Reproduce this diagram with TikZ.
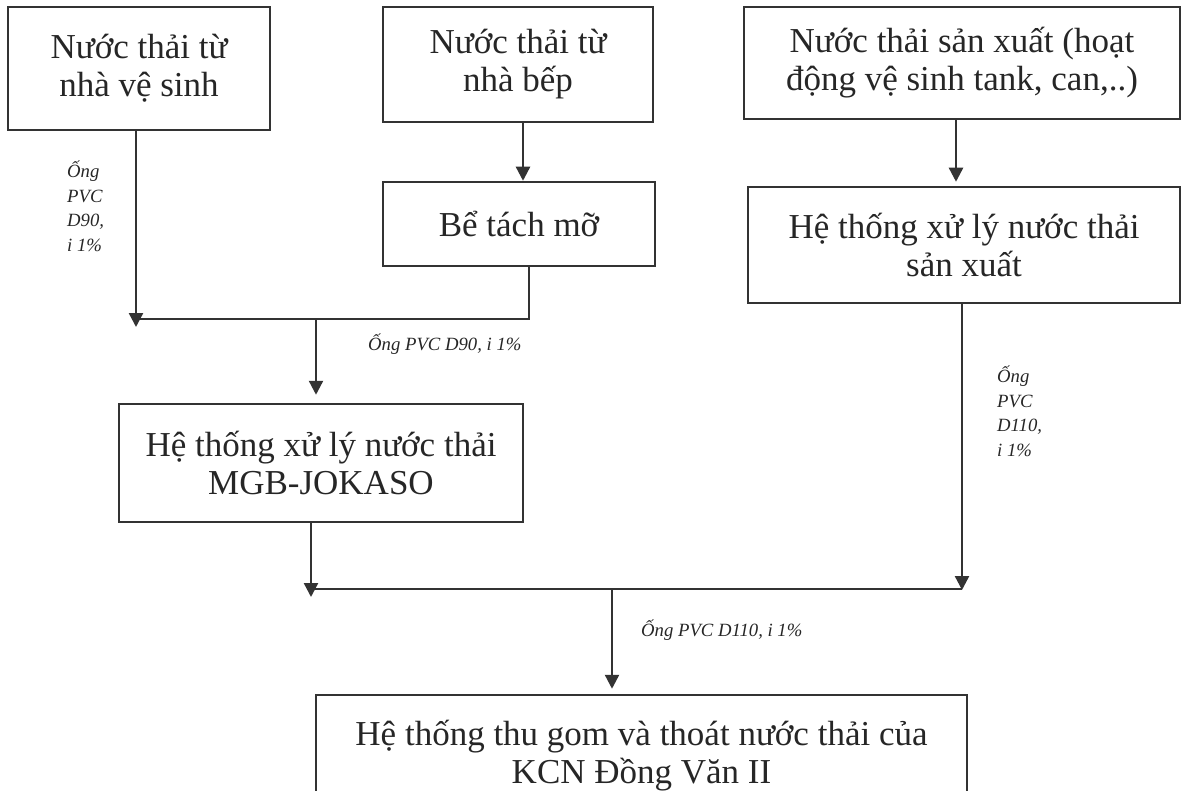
\documentclass[tikz,border=0pt]{standalone}
\usepackage{fontspec}
\setmainfont{Liberation Serif}
\usetikzlibrary{arrows.meta}
\definecolor{ink}{HTML}{262626}
\definecolor{linec}{HTML}{333333}
\begin{document}
\begin{tikzpicture}[x=1pt,y=-1pt,
  box/.style={draw=linec, line width=2.5pt, inner sep=0pt, align=center,
    text=ink, font=\fontsize{35}{38}\selectfont},
  flow/.style={draw=linec, line width=2.4pt, -{Triangle[width=14pt,length=14pt]}},
  pipe/.style={draw=linec, line width=1.7pt},
  note/.style={inner sep=0pt, text=ink, align=left,
    font=\fontsize{18.7}{24.5}\selectfont\itshape}]
\useasboundingbox (0,0) rectangle (1182,791);
\clip (0,0) rectangle (1182,791);

% sources
\node[box, minimum width=262pt, minimum height=123pt] (b1) at (139,68.5) {Nước thải từ\\nhà vệ sinh};
\node[box, minimum width=270pt, minimum height=115pt] (b2) at (518,64.5) {Nước thải từ\\nhà bếp};
\node[box, minimum width=436pt, minimum height=112pt] (b3) at (962,63) {Nước thải sản xuất (hoạt\\động vệ sinh tank, can,..)};

% pre-treatment
\node[box, minimum width=272pt, minimum height=84pt] (b4) at (519,224) {Bể tách mỡ};
\node[box, minimum width=432pt, minimum height=116pt] (b5) at (964,245) {Hệ thống xử lý nước thải\\sản xuất};
\node[box, minimum width=404pt, minimum height=118pt] (b6) at (321,463) {Hệ thống xử lý nước thải\\MGB-JOKASO};

% receiving network
\node[box, minimum width=651pt, minimum height=122pt] (b7) at (641.5,756) {Hệ thống thu gom và thoát nước thải của\\KCN Đồng Văn II};

% junction points
\coordinate (t1) at (136,327);
\coordinate (jl) at (136,319);
\coordinate (jr) at (529,319);
\coordinate (m1) at (316,319);
\coordinate (k1) at (523,0);
\coordinate (k2) at (956,0);
\coordinate (jr2) at (962,590);
\coordinate (jl2) at (311,589);
\coordinate (tl2) at (311,597);
\coordinate (m2) at (612,589);

% connectors
\draw[flow] (b1.south -| t1) -- (t1);
\draw[pipe] (b4.south -| jr) -- (jr) -- (jl);
\draw[flow, shorten >=8pt] (m1) -- (m1 |- b6.north);
\draw[flow] (b2.south -| k1) -- (b4.north -| k1);
\draw[flow, shorten >=4pt] (b3.south -| k2) -- (b5.north -| k2);
\draw[flow] (b5.south -| jr2) -- (jr2);
\draw[flow] (b6.south -| tl2) -- (tl2);
\draw[pipe] (jl2) -- (jl2 -| jr2);
\draw[flow, shorten >=5pt] (m2) -- (m2 |- b7.north);

% pipe labels
\node[note, anchor=north west] (n1) at (67,161) {Ống\\PVC\\D90,\\i 1\%};
\node[note, anchor=north west] (n2) at (997,366) {Ống\\PVC\\D110,\\i 1\%};
\node[note, anchor=base west] (n3) at (368,350) {Ống PVC D90, i 1\%};
\node[note, anchor=base west] (n4) at (641,636) {Ống PVC D110, i 1\%};
\end{tikzpicture}
\end{document}
